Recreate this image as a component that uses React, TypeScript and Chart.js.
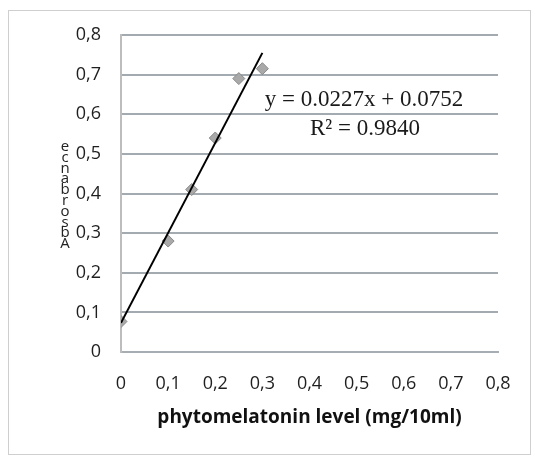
import React, { useEffect, useRef } from "react";
import { Chart, registerables } from "chart.js";

Chart.register(...registerables);

const concentrations = [0, 0.1, 0.15, 0.2, 0.25, 0.3];
const absorbances = [0.077, 0.28, 0.41, 0.54, 0.69, 0.715];
const axisTicks = [0, 0.1, 0.2, 0.3, 0.4, 0.5, 0.6, 0.7, 0.8];
const xTitle = "phytomelatonin level (mg/10ml)";
const yTitle = "Absorbance";
const equationText = "y = 0.0227x + 0.0752";
const r2Text = "R² = 0.9840";

function linearFit(xs: number[], ys: number[]) {
  const n = xs.length;
  const mx = xs.reduce((a, b) => a + b, 0) / n;
  const my = ys.reduce((a, b) => a + b, 0) / n;
  let sxy = 0;
  let sxx = 0;
  for (let i = 0; i < n; i++) {
    sxy += (xs[i] - mx) * (ys[i] - my);
    sxx += (xs[i] - mx) * (xs[i] - mx);
  }
  const m = sxy / sxx;
  return { m, b: my - m * mx };
}

const fmt = (v: number) => (v === 0 ? "0" : v.toFixed(1).replace(".", ","));

export default function App() {
  const ref = useRef<HTMLCanvasElement | null>(null);

  useEffect(() => {
    if (!ref.current) return;
    const fit = linearFit(concentrations, absorbances);
    const xMin = Math.min(...concentrations);
    const xMax = Math.max(...concentrations);

    const decor = {
      id: "decor",
      beforeDraw(chart: any) {
        const ctx = chart.ctx;
        ctx.save();
        ctx.fillStyle = "#ffffff";
        ctx.fillRect(0, 0, chart.width, chart.height);
        ctx.strokeStyle = "#cfcfcf";
        ctx.lineWidth = 1;
        ctx.strokeRect(8.5, 10.5, 522, 444);
        ctx.restore();
      },
      afterDraw(chart: any) {
        const ctx = chart.ctx;
        ctx.save();
        // stacked y title
        ctx.fillStyle = "#222222";
        ctx.font = "15px 'Open Sans'";
        ctx.textAlign = "center";
        ctx.textBaseline = "middle";
        const letters = yTitle.split("");
        letters.forEach((ch, i) => {
          ctx.fillText(ch, 65, 244 - i * 10.8);
        });
        // equation
        ctx.fillStyle = "#1a1a1a";
        ctx.font = "23px 'Liberation Serif'";
        ctx.textBaseline = "alphabetic";
        ctx.fillText(equationText, 364, 106);
        ctx.fillText(r2Text, 365, 135);
        ctx.restore();
      },
    };

    const chart = new Chart(ref.current, {
      type: "scatter",
      data: {
        datasets: [
          {
            label: "trend",
            type: "line",
            data: [
              { x: xMin, y: fit.m * xMin + fit.b },
              { x: xMax, y: fit.m * xMax + fit.b },
            ],
            borderColor: "#000000",
            borderWidth: 2,
            pointRadius: 0,
            fill: false,
            order: 0,
          } as any,
          {
            label: "data",
            data: concentrations.map((x, i) => ({ x, y: absorbances[i] })),
            pointStyle: "rectRot",
            pointRadius: 6,
            backgroundColor: "#a9a9a9",
            borderColor: "#8a8a8a",
            borderWidth: 1,
            order: 1,
          },
        ],
      },
      options: {
        responsive: false,
        animation: false,
        layout: { padding: { left: 0, right: 37, top: 35, bottom: 0 } },
        plugins: { legend: { display: false }, tooltip: { enabled: false } },
        scales: {
          x: {
            type: "linear",
            min: 0,
            max: 0.8,
            afterBuildTicks: (s: any) => {
              s.ticks = axisTicks.map((v) => ({ value: v }));
            },
            afterFit: (s: any) => {
              s.height = 105;
            },
            grid: { display: false, drawTicks: false },
            border: { display: true, color: "#a6aeb4", width: 2 },
            ticks: {
              padding: 21,
              color: "#1f1f1f",
              font: { family: "'Open Sans'", size: 18 },
              callback: (v: any) => fmt(Number(v)),
              maxRotation: 0,
            },
            title: {
              display: true,
              text: xTitle,
              color: "#111111",
              font: { family: "'Open Sans'", size: 19, weight: "bold" },
              padding: { top: 0, bottom: 28 },
            },
          },
          y: {
            type: "linear",
            min: 0,
            max: 0.8,
            afterBuildTicks: (s: any) => {
              s.ticks = axisTicks.map((v) => ({ value: v }));
            },
            afterFit: (s: any) => {
              s.width = 121;
            },
            grid: { color: "#a3abb1", lineWidth: 2, drawTicks: false },
            border: { display: true, color: "#bdbdbd", width: 2 },
            ticks: {
              padding: 20,
              color: "#1f1f1f",
              font: { family: "'Open Sans'", size: 18 },
              callback: (v: any) => fmt(Number(v)),
            },
          },
        },
      },
      plugins: [decor],
    });
    return () => chart.destroy();
  }, []);

  return (
    <div style={{ position: "fixed", left: 0, top: 0, width: 535, height: 457 }}>
      <canvas ref={ref} width={535} height={457} />
    </div>
  );
}
